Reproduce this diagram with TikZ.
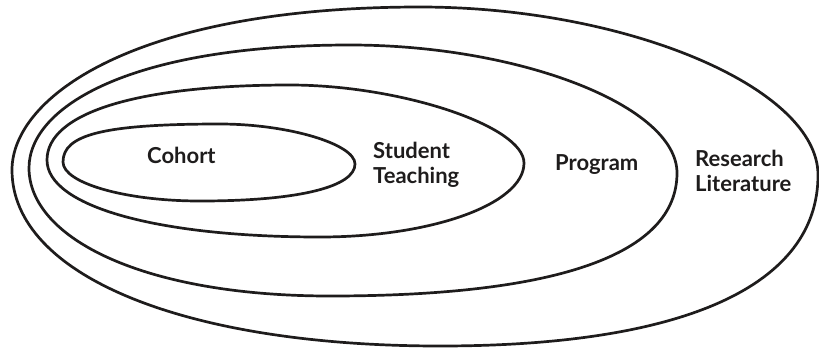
\documentclass[tikz,border=0pt]{standalone}
\usepackage{fontspec}
\newfontfamily\labfont{Lato}
\definecolor{ink}{HTML}{1E1C1C}
\tikzset{
  ring/.style={line width=2.7pt, draw=ink},
  lab/.style={font=\labfont\bfseries\fontsize{22}{25}\selectfont, text=ink, inner sep=0pt, align=left},
}
\begin{document}
\begin{tikzpicture}[x=1pt,y=-1pt]
\useasboundingbox (0,0) rectangle (819,349);
% outer: Research Literature
\draw[ring] (12,170) .. controls (12,97) and (135,7) .. (420,7)
  .. controls (627,7) and (818,88) .. (818,175)
  .. controls (818,285) and (686,346) .. (440,346)
  .. controls (183,346) and (12,275) .. (12,170) -- cycle;
% second: Program
\draw[ring] (29,168) .. controls (29,106) and (132,45) .. (350,45)
  .. controls (520,45) and (677,106) .. (677,173)
  .. controls (677,254) and (559,296) .. (330,296)
  .. controls (143,296) and (29,238) .. (29,168) -- cycle;
% third: Student Teaching
\draw[ring] (47,160) .. controls (47,113) and (137,85) .. (290,85)
  .. controls (400,85) and (524,126) .. (524,163)
  .. controls (524,204) and (432,237) .. (320,237)
  .. controls (156,237) and (47,206) .. (47,160) -- cycle;
% inner: Cohort
\draw[ring] (63,162) .. controls (63,135) and (102,124) .. (220,124)
  .. controls (288,124) and (355,144) .. (355,164)
  .. controls (355,186) and (302,201) .. (200,201)
  .. controls (125,201) and (63,183) .. (63,162) -- cycle;
\node[lab, anchor=base west] (cohort) at (147,163) {Cohort};
\node[lab, anchor=base west] (student) at (373,183) {Student\\Teaching};
\node[lab, anchor=base west] (program) at (555,170) {Program};
\node[lab, anchor=base west] (research) at (695,191) {Research\\Literature};
\end{tikzpicture}
\end{document}
